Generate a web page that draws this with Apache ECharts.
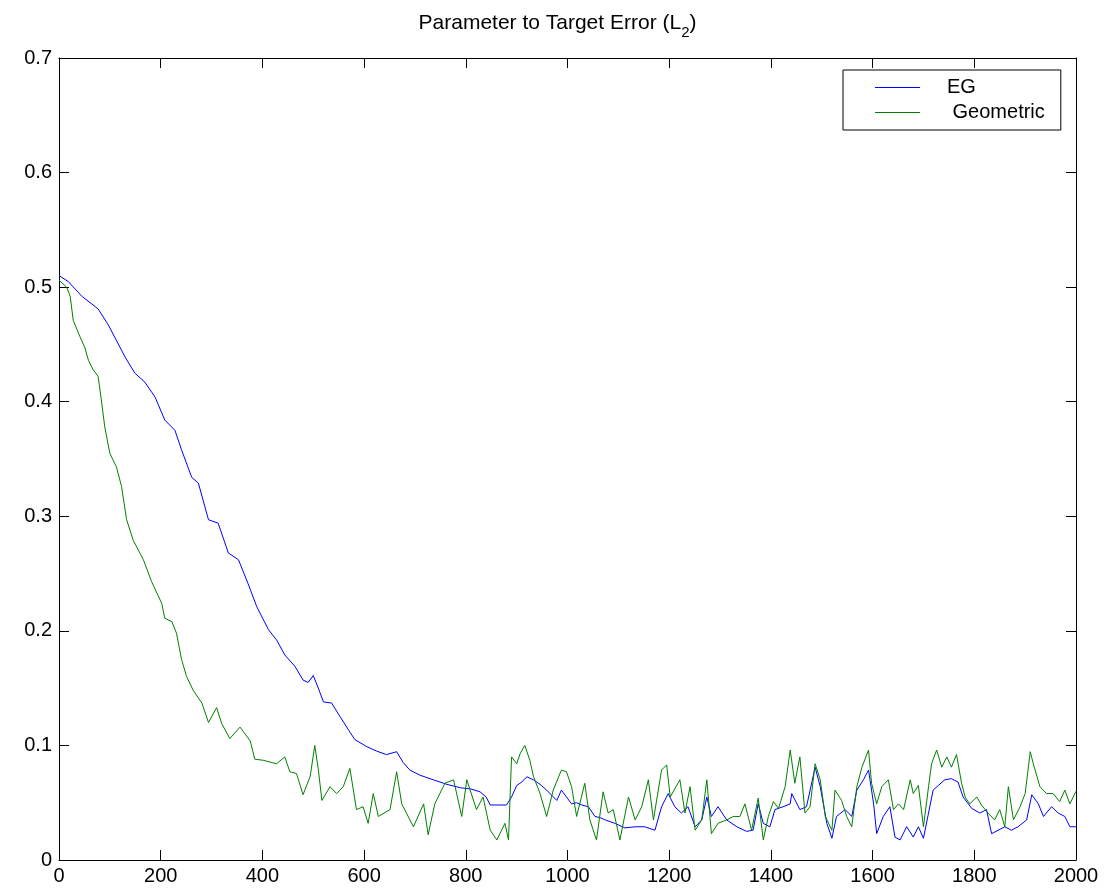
<!DOCTYPE html>
<html>
<head>
<meta charset="utf-8">
<script src="https://cdn.jsdelivr.net/npm/echarts@6/dist/echarts.min.js"></script>
<style>
html,body{margin:0;padding:0;background:#fff;}
#chart{width:1115px;height:893px;}
</style>
</head>
<body>
<div id="chart"></div>
<script>
// ---- data ----
const xTicks = [0, 200, 400, 600, 800, 1000, 1200, 1400, 1600, 1800, 2000];
const yTicks = [0, 0.1, 0.2, 0.3, 0.4, 0.5, 0.6, 0.7];

const egIter = [0,18,45,77,97,130,149,169,189,208,228,241,261,274,294,313,333,353,372,389,412,428,444,464,480,490,500,510,520,536,553,570,582,605,625,644,664,677,690,710,736,763,790,810,828,840,848,865,880,890,900,910,920,933,946,959,970,979,988,998,1008,1018,1028,1041,1054,1064,1074,1093,1113,1133,1152,1172,1185,1198,1211,1224,1237,1251,1264,1274,1283,1296,1313,1333,1352,1365,1375,1385,1398,1408,1424,1438,1441,1457,1470,1487,1497,1510,1520,1529,1546,1559,1569,1582,1592,1602,1608,1621,1634,1644,1654,1667,1680,1690,1700,1710,1719,1729,1742,1755,1768,1778,1795,1811,1824,1834,1847,1860,1873,1886,1903,1913,1926,1936,1952,1965,1978,1988,2000];
const egErr  = [0.510,0.505,0.492,0.481,0.467,0.439,0.425,0.417,0.404,0.384,0.375,0.358,0.334,0.329,0.297,0.294,0.268,0.262,0.241,0.221,0.201,0.192,0.179,0.169,0.157,0.155,0.161,0.150,0.138,0.137,0.125,0.113,0.105,0.099,0.095,0.092,0.0945,0.085,0.0785,0.074,0.070,0.066,0.063,0.062,0.0595,0.055,0.048,0.048,0.048,0.055,0.065,0.068,0.0726,0.070,0.066,0.061,0.056,0.052,0.061,0.055,0.049,0.050,0.048,0.0465,0.038,0.037,0.035,0.032,0.028,0.029,0.029,0.026,0.0465,0.058,0.0465,0.041,0.0465,0.029,0.035,0.055,0.038,0.0465,0.035,0.029,0.025,0.026,0.049,0.032,0.029,0.044,0.0465,0.049,0.058,0.044,0.0465,0.081,0.064,0.032,0.019,0.038,0.044,0.038,0.061,0.070,0.0785,0.049,0.023,0.038,0.0465,0.020,0.0175,0.029,0.020,0.029,0.019,0.041,0.061,0.065,0.070,0.071,0.068,0.055,0.045,0.041,0.044,0.023,0.026,0.029,0.026,0.029,0.035,0.057,0.049,0.038,0.0465,0.041,0.038,0.029,0.029];

const geoIter = [0,15,22,28,41,51,58,67,77,84,90,100,113,123,133,146,166,182,202,208,222,231,241,251,264,281,294,310,320,336,356,376,385,402,428,444,454,467,480,494,503,510,517,533,546,559,572,585,598,608,618,628,651,664,674,697,717,726,739,759,776,792,802,821,834,848,861,877,884,890,900,907,916,926,933,946,959,972,988,998,1008,1018,1034,1044,1057,1070,1080,1090,1103,1120,1133,1146,1159,1169,1185,1195,1202,1221,1231,1241,1251,1264,1274,1283,1296,1313,1326,1339,1349,1362,1375,1385,1395,1405,1415,1428,1438,1447,1457,1467,1477,1487,1497,1507,1520,1526,1539,1549,1559,1569,1579,1592,1598,1608,1618,1631,1641,1651,1661,1674,1680,1690,1700,1710,1716,1726,1736,1746,1755,1765,1775,1782,1791,1805,1814,1827,1840,1850,1860,1867,1877,1890,1900,1910,1916,1929,1942,1955,1968,1978,1988,2000];
const geoErr  = [0.506,0.500,0.492,0.471,0.457,0.447,0.436,0.428,0.422,0.399,0.378,0.355,0.343,0.326,0.297,0.279,0.262,0.243,0.224,0.211,0.208,0.198,0.175,0.160,0.148,0.137,0.120,0.133,0.119,0.106,0.116,0.104,0.088,0.087,0.084,0.090,0.077,0.0755,0.057,0.073,0.100,0.079,0.052,0.064,0.058,0.064,0.080,0.044,0.0465,0.032,0.058,0.038,0.044,0.077,0.049,0.029,0.049,0.022,0.049,0.067,0.070,0.038,0.070,0.044,0.055,0.026,0.0175,0.032,0.0175,0.090,0.084,0.093,0.100,0.087,0.073,0.058,0.038,0.061,0.0785,0.077,0.064,0.038,0.067,0.035,0.0175,0.0595,0.041,0.044,0.0175,0.055,0.035,0.0465,0.070,0.035,0.0785,0.083,0.055,0.070,0.041,0.064,0.026,0.035,0.070,0.023,0.032,0.035,0.038,0.038,0.049,0.026,0.054,0.0175,0.038,0.051,0.045,0.064,0.096,0.067,0.090,0.041,0.0465,0.084,0.070,0.038,0.026,0.061,0.052,0.038,0.029,0.064,0.081,0.096,0.067,0.049,0.064,0.070,0.044,0.049,0.044,0.070,0.058,0.065,0.029,0.064,0.084,0.096,0.081,0.090,0.081,0.092,0.067,0.055,0.049,0.055,0.048,0.041,0.035,0.044,0.029,0.064,0.035,0.0465,0.058,0.0945,0.084,0.064,0.058,0.058,0.051,0.061,0.049,0.060];

const seriesNames = ['EG', ' Geometric'];
const titleMain = 'Parameter to Target Error (L';
const titleSub = '2';

// ---- chart ----
const chart = echarts.init(document.getElementById('chart'), null, {renderer: 'canvas'});
const FONT = '"Liberation Sans", Arial, sans-serif';
const axisLineStyle = {color: '#000', width: 1};

const grid = {left: 59, right: 39, top: 58, bottom: 33, containLabel: false};

const option = {
  backgroundColor: '#fff',
  animation: false,
  title: {
    text: '{a|' + titleMain + '}{s|' + titleSub + '}{a|)}',
    left: 'center',
    top: 8,
    textStyle: {
      fontWeight: 'normal',
      rich: {
        a: {fontFamily: FONT, fontSize: 21, fontWeight: 'normal', color: '#000', lineHeight: 24, verticalAlign: 'top'},
        s: {fontFamily: FONT, fontSize: 15, fontWeight: 'normal', color: '#000', lineHeight: 24, padding: [12, 0, 0, 0], verticalAlign: 'top'}
      }
    }
  },
  legend: {
    orient: 'vertical',
    left: 843,
    top: 70,
    backgroundColor: '#fff',
    borderColor: '#000',
    borderWidth: 1,
    borderRadius: 0,
    padding: [7, 16, 7, 32],
    itemGap: 4,
    itemWidth: 45,
    itemHeight: 1,
    icon: 'rect',
    textStyle: {fontFamily: FONT, fontSize: 20, color: '#000', padding: [0, 0, 0, 22], lineHeight: 21},
    data: seriesNames
  },
  grid: grid,
  xAxis: [
    {
      type: 'value', position: 'bottom', min: 0, max: 2000, interval: 200,
      axisLine: {show: true, onZero: false, lineStyle: axisLineStyle},
      axisTick: {show: true, inside: true, length: 10, lineStyle: axisLineStyle},
      axisLabel: {show: true, color: '#000', fontFamily: FONT, fontSize: 20, margin: 6,
        formatter: v => String(v)},
      splitLine: {show: false}
    },
    {
      type: 'value', position: 'top', min: 0, max: 2000, interval: 200,
      axisLine: {show: true, onZero: false, lineStyle: axisLineStyle},
      axisTick: {show: true, inside: true, length: 10, lineStyle: axisLineStyle},
      axisLabel: {show: false},
      splitLine: {show: false}
    }
  ],
  yAxis: [
    {
      type: 'value', position: 'left', min: 0, max: 0.7, interval: 0.1,
      axisLine: {show: true, onZero: false, lineStyle: axisLineStyle},
      axisTick: {show: true, inside: true, length: 10, lineStyle: axisLineStyle},
      axisLabel: {show: true, color: '#000', fontFamily: FONT, fontSize: 20, margin: 7,
        formatter: v => (Math.round(v * 10) / 10).toString()},
      splitLine: {show: false}
    },
    {
      type: 'value', position: 'right', min: 0, max: 0.7, interval: 0.1,
      axisLine: {show: true, onZero: false, lineStyle: axisLineStyle},
      axisTick: {show: true, inside: true, length: 10, lineStyle: axisLineStyle},
      axisLabel: {show: false},
      splitLine: {show: false}
    }
  ],
  series: [
    {
      name: seriesNames[0], type: 'line', xAxisIndex: 0, yAxisIndex: 0,
      showSymbol: false, symbol: 'none', smooth: false,
      lineStyle: {color: '#0000ff', width: 1},
      itemStyle: {color: '#0000ff'},
      data: egIter.map((x, i) => [x, egErr[i]])
    },
    {
      name: seriesNames[1], type: 'line', xAxisIndex: 0, yAxisIndex: 0,
      showSymbol: false, symbol: 'none', smooth: false,
      lineStyle: {color: '#008000', width: 1},
      itemStyle: {color: '#008000'},
      data: geoIter.map((x, i) => [x, geoErr[i]])
    }
  ]
};
chart.setOption(option);
</script>
</body>
</html>
